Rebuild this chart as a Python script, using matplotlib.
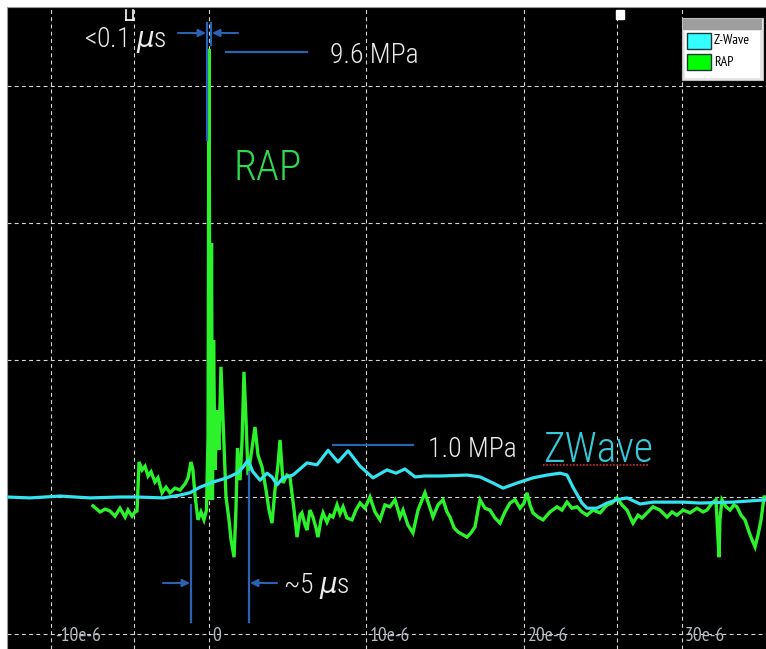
import matplotlib
matplotlib.use("Agg")
import matplotlib.pyplot as plt
from matplotlib.lines import Line2D
from matplotlib.patches import Rectangle

# ---- traces: time in microseconds, pressure in MPa ----
zwave_t = [-12.83, -11.37, -9.46, -7.56, -5.65, -4.57, -2.92, -1.84, -1.21, -0.57,
           0.25, 1.14, 1.78, 2.16, 2.48, 2.79, 3.24, 3.68, 4.00, 4.32,
           4.70, 5.33, 6.22, 6.86, 7.56, 8.19, 8.83, 9.59, 10.41, 11.30,
           11.87, 12.44, 13.08, 13.71, 14.67, 16.38, 17.21, 18.03, 18.67, 19.56,
           20.57, 21.46, 22.29, 22.73, 23.11, 23.68, 24.00, 24.63, 25.27, 25.90,
           26.54, 27.37, 28.19, 30.10, 31.17, 33.27, 35.37]
zwave_p = [0.00, -0.02, 0.02, -0.02, 0.00, 0.00, -0.02, 0.04, 0.09, 0.21,
           0.32, 0.41, 0.51, 0.64, 0.79, 0.54, 0.36, 0.51, 0.43, 0.26,
           0.41, 0.47, 0.73, 0.69, 1.00, 0.75, 0.99, 0.66, 0.41, 0.58,
           0.51, 0.60, 0.43, 0.45, 0.45, 0.47, 0.43, 0.30, 0.19, 0.30,
           0.41, 0.47, 0.51, 0.47, 0.21, -0.13, -0.24, -0.24, -0.13, -0.06,
           -0.02, -0.15, -0.11, -0.11, -0.13, -0.11, -0.06]

rap_t = [-7.37, -6.92, -6.60, -6.29, -5.97, -5.65, -5.33, -5.14, -4.89, -4.70,
         -4.57, -4.44, -4.25, -4.06, -3.87, -3.68, -3.43, -3.24, -2.98, -2.73,
         -2.48, -2.16, -1.84, -1.52, -1.33, -1.14, -1.02, -0.89, -0.70, -0.51,
         -0.32, -0.16, -0.06, 0.00, 0.08, 0.16, 0.22, 0.29, 0.38, 0.51,
         0.63, 0.76, 0.89, 1.08, 1.27, 1.40, 1.59, 1.71, 1.81, 1.97,
         2.10, 2.22, 2.35, 2.48, 2.67, 2.92, 3.11, 3.37, 3.62, 3.81,
         4.00, 4.19, 4.38, 4.51, 4.70, 4.95, 5.14, 5.40, 5.59, 5.78,
         5.90, 6.10, 6.22, 6.41, 6.60, 6.79, 6.92, 7.11, 7.24, 7.49,
         7.68, 7.87, 8.13, 8.32, 8.51, 8.76, 9.08, 9.33, 9.59, 9.90,
         10.22, 10.54, 10.86, 11.17, 11.49, 11.81, 12.13, 12.32, 12.63, 12.95,
         13.27, 13.71, 13.97, 14.22, 14.54, 14.86, 15.11, 15.30, 15.56, 15.81,
         16.13, 16.38, 16.63, 16.89, 17.08, 17.21, 17.52, 17.84, 18.16, 18.48,
         18.79, 19.11, 19.43, 19.75, 20.00, 20.19, 20.38, 20.57, 20.89, 21.21,
         21.65, 22.10, 22.41, 22.73, 23.05, 23.37, 23.68, 24.00, 24.38, 24.83,
         25.27, 25.59, 25.90, 26.22, 26.54, 26.92, 27.24, 27.49, 27.81, 28.19,
         28.63, 29.08, 29.40, 29.71, 30.10, 30.54, 30.98, 31.37, 31.62, 31.94,
         32.19, 32.32, 32.38, 32.44, 32.57, 32.83, 33.08, 33.33, 33.52, 33.78,
         34.03, 34.29, 34.48, 34.67, 34.86, 35.05, 35.24, 35.37]
rap_p = [-0.19, -0.32, -0.26, -0.30, -0.41, -0.24, -0.43, -0.28, -0.41, -0.32,
         -0.30, 0.75, 0.58, 0.66, 0.45, 0.54, 0.32, 0.41, 0.09, 0.21,
         0.09, 0.19, 0.15, 0.28, 0.41, 0.75, 0.58, 0.04, -0.49, -0.32,
         -0.49, -0.28, 1.29, 9.60, -0.06, 5.44, -0.06, 3.36, 0.58, 1.86,
         1.01, 2.79, 1.65, 0.00, -0.49, -0.92, -1.29, -0.28, 1.05, 0.36,
         1.22, 2.68, 1.65, 0.47, 0.90, 1.50, 0.90, 0.64, 0.15, -0.28,
         -0.56, 0.15, 0.69, 1.22, 0.30, 0.47, 0.43, -0.28, -0.86, -0.39,
         -0.34, -0.60, -0.71, -0.28, -0.43, -0.66, -0.86, -0.49, -0.34, -0.54,
         -0.39, -0.43, -0.17, -0.36, -0.21, -0.45, -0.49, -0.28, -0.13, -0.24,
         0.00, -0.32, -0.49, -0.17, -0.21, -0.06, -0.43, -0.28, -0.60, -0.77,
         -0.28, 0.09, -0.17, -0.43, -0.17, -0.06, -0.32, -0.43, -0.66, -0.75,
         -0.81, -0.86, -0.77, -0.64, -0.28, -0.06, -0.24, -0.28, -0.45, -0.56,
         -0.32, -0.13, -0.06, -0.24, -0.13, 0.09, -0.17, -0.34, -0.43, -0.49,
         -0.32, -0.21, -0.28, -0.11, -0.24, -0.21, -0.32, -0.39, -0.28, -0.34,
         -0.17, -0.13, -0.02, -0.17, -0.28, -0.56, -0.39, -0.45, -0.34, -0.21,
         -0.28, -0.43, -0.32, -0.39, -0.28, -0.34, -0.24, -0.32, -0.28, -0.13,
         -0.06, -0.92, -1.29, -0.49, -0.06, -0.21, -0.28, -0.17, -0.21, -0.39,
         -0.49, -0.75, -0.92, -1.07, -0.81, -0.49, 0.00, 0.00]

# axis labelling
tick_values = [-10, 0, 10, 20, 30]
tick_labels = ["-10e-6", "0", "10e-6", "20e-6", "30e-6"]
cursor_times = [-4.76, 25.9]
grid_step = 2.936
legend_names = ["Z-Wave", "RAP"]

W, H = 766, 649
ANNOT = ["Roboto Condensed", "DejaVu Sans"]
TICKF = ["PT Sans Narrow", "DejaVu Sans"]

fig = plt.figure(figsize=(W / 100, H / 100), dpi=100)
fig.patch.set_facecolor("white")
ax = fig.add_axes([7 / W, 0, (W - 7) / W, (H - 7) / H])
ax.set_facecolor("black")
ax.set_xlim(-12.825, 35.365)
ax.set_ylim(-3.257, 10.499)
ax.set_xticks([])
ax.set_yticks([])
for side, sp in ax.spines.items():
    sp.set_color("#9a9a9a")
    sp.set_linewidth(0.8)
    if side in ("right", "bottom"):
        sp.set_visible(False)

grid_kw = dict(color="#d8d8d8", lw=0.8, ls=(0, (3.5, 3)), zorder=1)
for k in range(-1, 4):
    ax.axhline(k * grid_step, **grid_kw)
for t in tick_values + cursor_times:
    ax.axvline(t, **grid_kw)

ax.plot(rap_t, rap_p, color="#2cf22c", lw=2.4, zorder=3, solid_joinstyle="miter")
ax.plot(zwave_t, zwave_p, color="#33e3f0", lw=2.3, zorder=4)

# tick labels inside the plot
xa = ax.get_xaxis_transform()
for v, lab in zip(tick_values, tick_labels):
    ax.annotate(lab, xy=(v, (H - 636) / (H - 7)), xycoords=xa, xytext=(2.5, 0),
                textcoords="offset points", ha="left", va="center",
                color="#b4bac0", fontsize=14, family=TICKF, zorder=5)


def fx(px):
    return px / W


def fy(py):
    return 1 - py / H


blue = "#2a62b4"


def seg(x0, y0, x1, y1, color=blue, lw=1.6, ls="-"):
    fig.add_artist(Line2D([fx(x0), fx(x1)], [fy(y0), fy(y1)],
                          transform=fig.transFigure, color=color, lw=lw, ls=ls, zorder=6))


def arrow(x0, y0, x1, y1):
    ax.annotate("", xy=(x1, H - y1), xycoords="figure pixels",
                xytext=(x0, H - y0), textcoords="figure pixels",
                arrowprops=dict(arrowstyle="-|>", color=blue, lw=1.5,
                                mutation_scale=11, shrinkA=0, shrinkB=0), zorder=6)


# rise-time marker
seg(207, 23, 207, 140)
seg(211, 23, 211, 45)
arrow(178, 33, 206, 33)
arrow(238, 33, 212, 33)
# amplitude leaders
seg(226, 52, 307, 52)
seg(333, 445, 413, 445)
# ~5 us marker
seg(191, 505, 191, 622)
seg(249, 472, 249, 622)
arrow(163, 583, 190, 583)
arrow(277, 583, 250, 583)

txt_kw = dict(family=ANNOT, fontweight="light", va="baseline", ha="left", zorder=7)
fig.text(fx(84), fy(47), r"<0.1 $\mu$s", color="#ececec", fontsize=20, **txt_kw)
fig.text(fx(330), fy(63), "9.6 MPa", color="#ececec", fontsize=20, **txt_kw)
fig.text(fx(233), fy(180), "RAP", color="#30d84e", fontsize=30, **txt_kw)
fig.text(fx(428), fy(457), "1.0 MPa", color="#ececec", fontsize=20, **txt_kw)
fig.text(fx(543), fy(462), "ZWave", color="#38c8d8", fontsize=30, **txt_kw)
fig.text(fx(283), fy(593), r"~5 $\mu$s", color="#ececec", fontsize=20, **txt_kw)
seg(543, 465, 648, 465, color="#d03030", lw=1.2, ls=(0, (1, 1)))

# cursor handles on the top edge
fig.add_artist(Rectangle((fx(616), fy(19)), 8 / W, 9 / H, transform=fig.transFigure,
                         facecolor="white", edgecolor="white", zorder=7))
seg(126, 10, 126, 20, color="white", lw=1.2)
seg(133, 10, 133, 20, color="white", lw=1.2)
seg(126, 20, 133, 20, color="white", lw=1.2)


# legend panel
def box(x0, y0, x1, y1, fc, ec="none", lw=0.8):
    fig.add_artist(Rectangle((fx(x0), fy(y1)), (x1 - x0) / W, (y1 - y0) / H,
                             transform=fig.transFigure, facecolor=fc,
                             edgecolor=ec, lw=lw, zorder=8))


box(682, 18, 763, 80, "#e6e6e6", "#bdbdbd")
box(683, 19, 762, 30, "#9e9e9e")
box(685, 31, 760, 78, "white")
swatches = ["#33ffff", "#00ff00"]
for i, (name, c) in enumerate(zip(legend_names, swatches)):
    y0 = 33 + i * 21
    box(687, y0, 711, y0 + 16, c, "#1a3a3a", 1.0)
    fig.text(fx(714), fy(y0 + 8), name, color="black", fontsize=10,
             family=TICKF, va="center", ha="left", zorder=9)

fig.savefig("out.png", dpi=100, facecolor="white")
